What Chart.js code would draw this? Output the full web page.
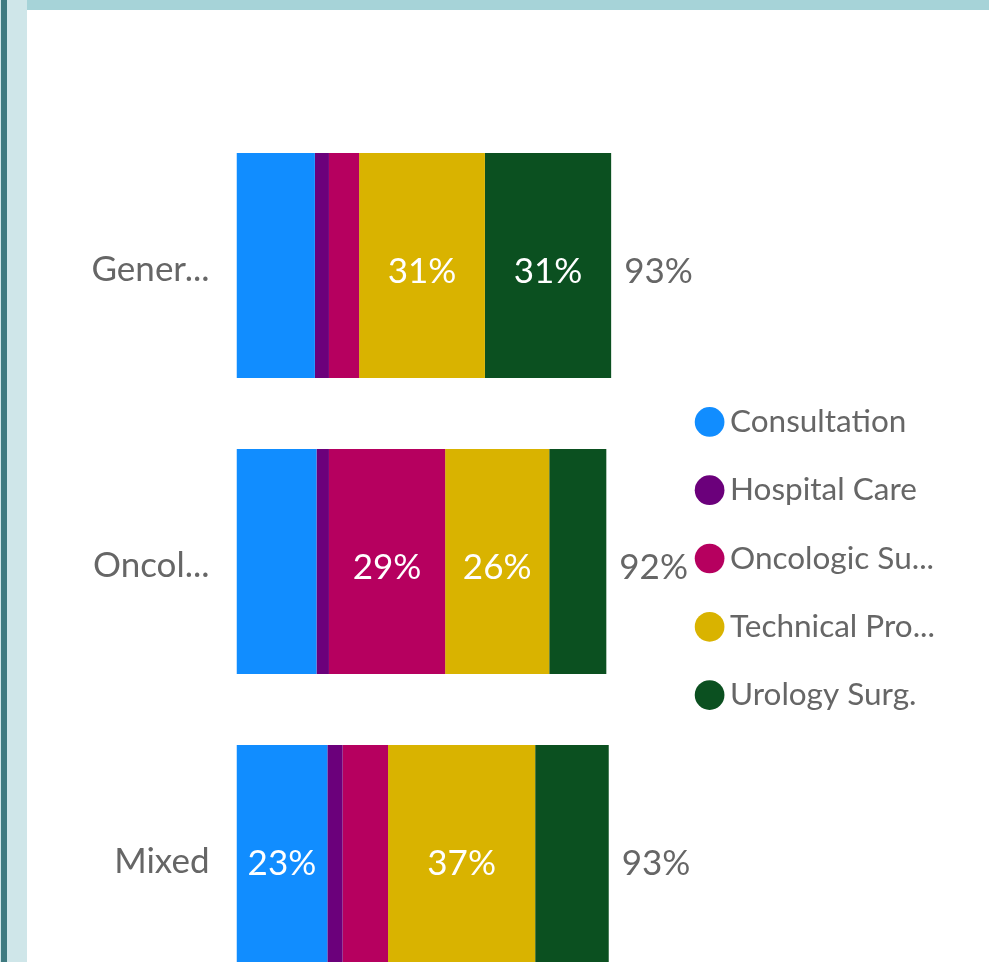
<!DOCTYPE html>
<html>
<head>
<meta charset="utf-8">
<script src="https://cdn.jsdelivr.net/npm/chart.js@4.4.1/dist/chart.umd.min.js"></script>
<style>
  html, body { margin: 0; padding: 0; width: 989px; height: 962px; overflow: hidden; background: #ffffff; }
  #leftStrip { position: absolute; left: 0; top: 0; width: 27px; height: 962px; background: #cfe6e9; }
  #leftDark { position: absolute; left: 1px; top: 0; width: 6px; height: 962px; background: #3e7a80; }
  #topBand { position: absolute; left: 27px; top: 0; width: 962px; height: 10px; background: #a6d3d8; }
  #wrap { position: absolute; left: 27px; top: 10px; width: 962px; height: 1000px; }
  canvas { display: block; }
</style>
</head>
<body>
<div id="leftStrip"></div>
<div id="leftDark"></div>
<div id="topBand"></div>
<div id="wrap"><canvas id="c" width="962" height="1000" style="width:962px;height:1000px"></canvas></div>
<script>
// ---- data (percent of total) ----
const categories = ['Gener...', 'Oncol...', 'Mixed'];
const seriesNames = ['Consultation', 'Hospital Care', 'Oncologic Su...', 'Technical Pro...', 'Urology Surg.'];
const consultation  = [19.5, 19.9, 22.6];
const hospitalCare  = [3.5, 3.1, 3.8];
const oncologicSurg = [7.5, 28.9, 11.3];
const technicalProc = [31.3, 25.9, 36.6];
const urologySurg   = [31.4, 14.2, 18.3];
const seriesColors = ['#118DFF', '#6B007B', '#B6005F', '#D9B300', '#0B5020'];

const FONT = 'Lato, "Open Sans", sans-serif';
const FS_LABEL = 35;
const FS_LEGEND = 31.5;
const TEXT = '#666666';

const seriesValues = [consultation, hospitalCare, oncologicSurg, technicalProc, urologySurg];

const labelPlugin = {
  id: 'segLabels',
  afterLayout(chart) {
    // let the legend text run to the canvas edge instead of being clipped
    if (chart.legend) {
      chart.legend.right = chart.width;
      chart.legend.width = chart.legend.right - chart.legend.left;
    }
  },
  afterDatasetsDraw(chart) {
    const ctx = chart.ctx;
    const xs = chart.scales.x;
    ctx.save();
    ctx.font = FS_LABEL + 'px ' + FONT;
    ctx.textBaseline = 'alphabetic';
    const dy = 17.5;
    chart.data.datasets.forEach((ds, di) => {
      const meta = chart.getDatasetMeta(di);
      meta.data.forEach((bar, i) => {
        const v = ds.data[i];
        const txt = Math.round(v) + '%';
        const p = bar.getProps(['x', 'base', 'y'], true);
        const w = Math.abs(p.x - p.base);
        if (ctx.measureText(txt).width + 18 <= w) {
          ctx.textAlign = 'center';
          ctx.fillStyle = '#ffffff';
          ctx.fillText(txt, (p.x + p.base) / 2, p.y + dy);
        }
      });
    });
    categories.forEach((c, i) => {
      let total = 0;
      chart.data.datasets.forEach(ds => { total += ds.data[i]; });
      const px = xs.getPixelForValue(total);
      const y = chart.getDatasetMeta(0).data[i].y;
      ctx.textAlign = 'left';
      ctx.fillStyle = TEXT;
      ctx.fillText(Math.round(total) + '%', px + 13, y + dy);
    });
    ctx.restore();
  }
};

new Chart(document.getElementById('c'), {
  type: 'bar',
  data: {
    labels: categories,
    datasets: seriesNames.map((n, k) => ({
      label: n,
      data: seriesValues[k],
      backgroundColor: seriesColors[k],
      borderWidth: 0,
      barPercentage: 0.76,
      categoryPercentage: 1.0
    }))
  },
  options: {
    indexAxis: 'y',
    responsive: false,
    animation: false,
    devicePixelRatio: 1,
    layout: { padding: { top: 101.5, bottom: 4.5, left: 0, right: 120.85 } },
    scales: {
      x: {
        stacked: true, min: 0, max: 107.38, position: 'top',
        ticks: { display: false },
        grid: { display: false, drawTicks: false },
        border: { display: false },
        afterFit(scale) { scale.height = 6; }
      },
      y: {
        stacked: true,
        grid: { display: false, drawTicks: false },
        border: { display: false },
        ticks: { color: TEXT, font: { size: FS_LABEL, family: FONT }, padding: 27, labelOffset: 4.5 },
        afterFit(scale) { scale.width = 209.5; scale.paddingTop = 0; scale.paddingBottom = 0; }
      }
    },
    plugins: {
      tooltip: { enabled: false },
      legend: {
        position: 'right',
        align: 'center',
        maxWidth: 200,
        labels: {
          usePointStyle: true,
          pointStyle: 'circle',
          boxWidth: 9.3,
          boxHeight: 21,
          padding: 36.8,
          color: TEXT,
          font: { size: FS_LEGEND, family: FONT }
        }
      }
    }
  },
  plugins: [labelPlugin]
});
</script>
</body>
</html>
